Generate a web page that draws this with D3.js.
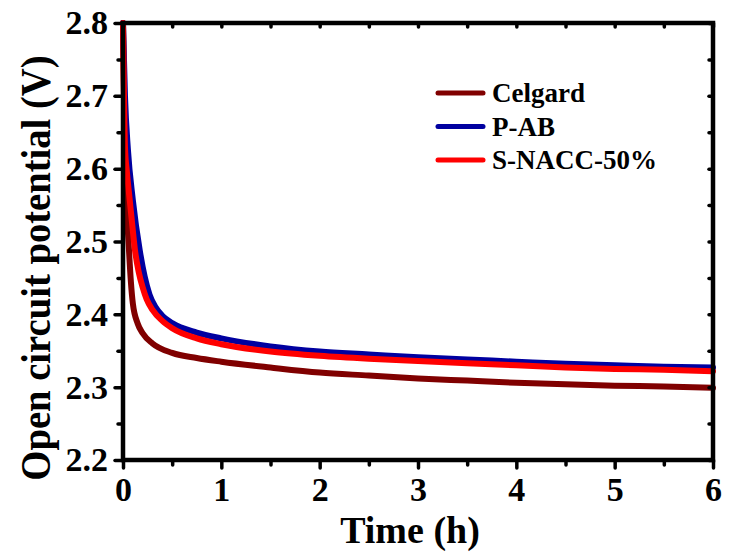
<!DOCTYPE html>
<html>
  <head>
    <title>Open circuit potential</title>
    <style>
      body { margin: 0; background: #fff; }
    </style>
  </head>
  <body>
    <div id="chart"></div>
  </body>
  <script src="https://d3js.org/d3.v7.min.js"></script>
  <script>

    // time (h) and potential (V)
    let celgardT = [0, 0.01, 0.02, 0.04, 0.06, 0.08, 0.10, 0.15, 0.2, 0.3, 0.5, 0.75, 1.0, 1.5, 2, 2.5, 3, 3.5, 4, 4.5, 5, 5.5, 6];
    let celgardV = [2.80, 2.70, 2.62, 2.54, 2.49, 2.445, 2.415, 2.387, 2.374, 2.360, 2.347, 2.340, 2.335, 2.327, 2.320, 2.316, 2.312, 2.309, 2.306, 2.304, 2.302, 2.301, 2.299];

    let pabT = [0, 0.02, 0.05, 0.10, 0.17, 0.22, 0.27, 0.33, 0.4, 0.5, 0.75, 1.0, 1.5, 2, 2.5, 3, 3.5, 4, 4.5, 5, 5.5, 6];
    let pabV = [2.80, 2.70, 2.626, 2.557, 2.488, 2.452, 2.427, 2.41, 2.398, 2.388, 2.375, 2.367, 2.356, 2.349, 2.345, 2.341, 2.338, 2.335, 2.332, 2.330, 2.328, 2.327];

    let snaccT = [0, 0.01, 0.02, 0.04, 0.07, 0.10, 0.12, 0.16, 0.2, 0.24, 0.3, 0.4, 0.5, 0.75, 1.0, 1.5, 2, 2.5, 3, 3.5, 4, 4.5, 5, 5.5, 6];
    let snaccV = [2.80, 2.70, 2.63, 2.595, 2.555, 2.515, 2.49, 2.458, 2.437, 2.421, 2.406, 2.391, 2.381, 2.367, 2.359, 2.349, 2.343, 2.339, 2.336, 2.333, 2.330, 2.327, 2.325, 2.324, 2.322];

    let seriesNames = ["Celgard", "P-AB", "S-NACC-50%"];
    let seriesColors = ["#800000", "#0000a0", "#ff0000"];

    let xTicks = [0, 1, 2, 3, 4, 5, 6];
    let xMinor = [0.5, 1.5, 2.5, 3.5, 4.5, 5.5];
    let yTicks = [2.2, 2.3, 2.4, 2.5, 2.6, 2.7, 2.8];
    let yMinor = [2.25, 2.35, 2.45, 2.55, 2.65, 2.75];

    let fontFamily = "'Liberation Serif', 'Times New Roman', Times, serif";

    //Set dimensions and margins of the graph
    let margin = {top: 23, right: 16, bottom: 96, left: 123};
    let width = 729 - margin.left - margin.right;
    let height = 556 - margin.top - margin.bottom;

    let xScale = d3.scaleLinear().domain([0, 6]).range([0, width]);
    let yScale = d3.scaleLinear().domain([2.2, 2.8]).range([height, 0]);

    let svg = d3.select("#chart").append("svg")
      .attr("width", 729)
      .attr("height", 556)
      .attr("font-family", fontFamily)
      .append("g")
      .attr("transform", "translate(" + margin.left + "," + margin.top + ")");

    let series = [
      {name: seriesNames[0], color: seriesColors[0], t: celgardT, v: celgardV},
      {name: seriesNames[1], color: seriesColors[1], t: pabT, v: pabV},
      {name: seriesNames[2], color: seriesColors[2], t: snaccT, v: snaccV}
    ];

    let line = d3.line()
      .x(function(d) { return xScale(d[0]); })
      .y(function(d) { return yScale(d[1]); })
      .curve(d3.curveMonotoneX);

    svg.selectAll(".series")
      .data(series)
      .enter().append("path")
      .attr("class", "series")
      .attr("fill", "none")
      .attr("stroke", function(d) { return d.color; })
      .attr("stroke-width", 6)
      .attr("stroke-linejoin", "round")
      .attr("stroke-linecap", "round")
      .attr("d", function(d) { return line(d.t.map(function(t, i) { return [t, d.v[i]]; })); });

    function styleAxis(g, fontSize) {
      g.attr("font-family", null).attr("font-size", null);
      g.select(".domain").remove();
      g.selectAll("line").attr("stroke", "#000").attr("stroke-width", 3.5).attr("stroke-linecap", "round");
      g.selectAll("text")
        .style("font-family", fontFamily)
        .style("font-weight", "bold")
        .style("font-size", fontSize + "px")
        .attr("fill", "#000");
    }

    // minor ticks
    svg.append("g")
      .attr("transform", "translate(0," + height + ")")
      .call(d3.axisBottom(xScale).tickValues(xMinor).tickSize(5).tickFormat(""))
      .call(styleAxis, 0);
    svg.append("g")
      .call(d3.axisLeft(yScale).tickValues(yMinor).tickSize(5).tickFormat(""))
      .call(styleAxis, 0);
    svg.append("g")
      .call(d3.axisTop(xScale).tickValues(xTicks.concat(xMinor)).tickSize(-4).tickFormat(""))
      .call(styleAxis, 0);
    svg.append("g")
      .attr("transform", "translate(" + width + ",0)")
      .call(d3.axisRight(yScale).tickValues(yTicks.concat(yMinor)).tickSize(-4).tickFormat(""))
      .call(styleAxis, 0);

    // major ticks with labels
    svg.append("g")
      .attr("transform", "translate(0," + height + ")")
      .call(d3.axisBottom(xScale).tickValues(xTicks).tickSize(8).tickPadding(9).tickFormat(d3.format("d")))
      .call(styleAxis, 34);
    svg.append("g")
      .call(d3.axisLeft(yScale).tickValues(yTicks).tickSize(8).tickPadding(7).tickFormat(d3.format(".1f")))
      .call(styleAxis, 34);

    // frame
    svg.append("rect")
      .attr("width", width)
      .attr("height", height)
      .attr("fill", "none")
      .attr("stroke", "#000")
      .attr("stroke-width", 4.5);

    // axis titles
    svg.append("text")
      .attr("x", width / 2 - 8)
      .attr("y", height + 83)
      .attr("text-anchor", "middle")
      .style("font-family", fontFamily)
      .style("font-weight", "bold")
      .style("font-size", "38px")
      .text("Time (h)");

    svg.append("text")
      .attr("transform", "translate(" + (50 - margin.left) + "," + (268 - margin.top) + ") rotate(-90) scale(0.92,1)")
      .attr("text-anchor", "middle")
      .style("font-family", fontFamily)
      .style("font-weight", "bold")
      .style("font-size", "42px")
      .text("Open circuit potential (V)");

    // legend
    let legend = svg.selectAll(".legend")
      .data(series)
      .enter().append("g")
      .attr("class", "legend")
      .attr("transform", function(d, i) { return "translate(" + (438 - margin.left) + "," + (93 - margin.top + i * 33.5) + ")"; });

    legend.append("line")
      .attr("x1", 0).attr("x2", 45)
      .attr("stroke", function(d) { return d.color; })
      .attr("stroke-width", 5)
      .attr("stroke-linecap", "round");

    legend.append("text")
      .attr("x", 54)
      .attr("y", 9)
      .style("font-family", fontFamily)
      .style("font-weight", "bold")
      .style("font-size", "27px")
      .text(function(d) { return d.name; });

  </script>
</html>
